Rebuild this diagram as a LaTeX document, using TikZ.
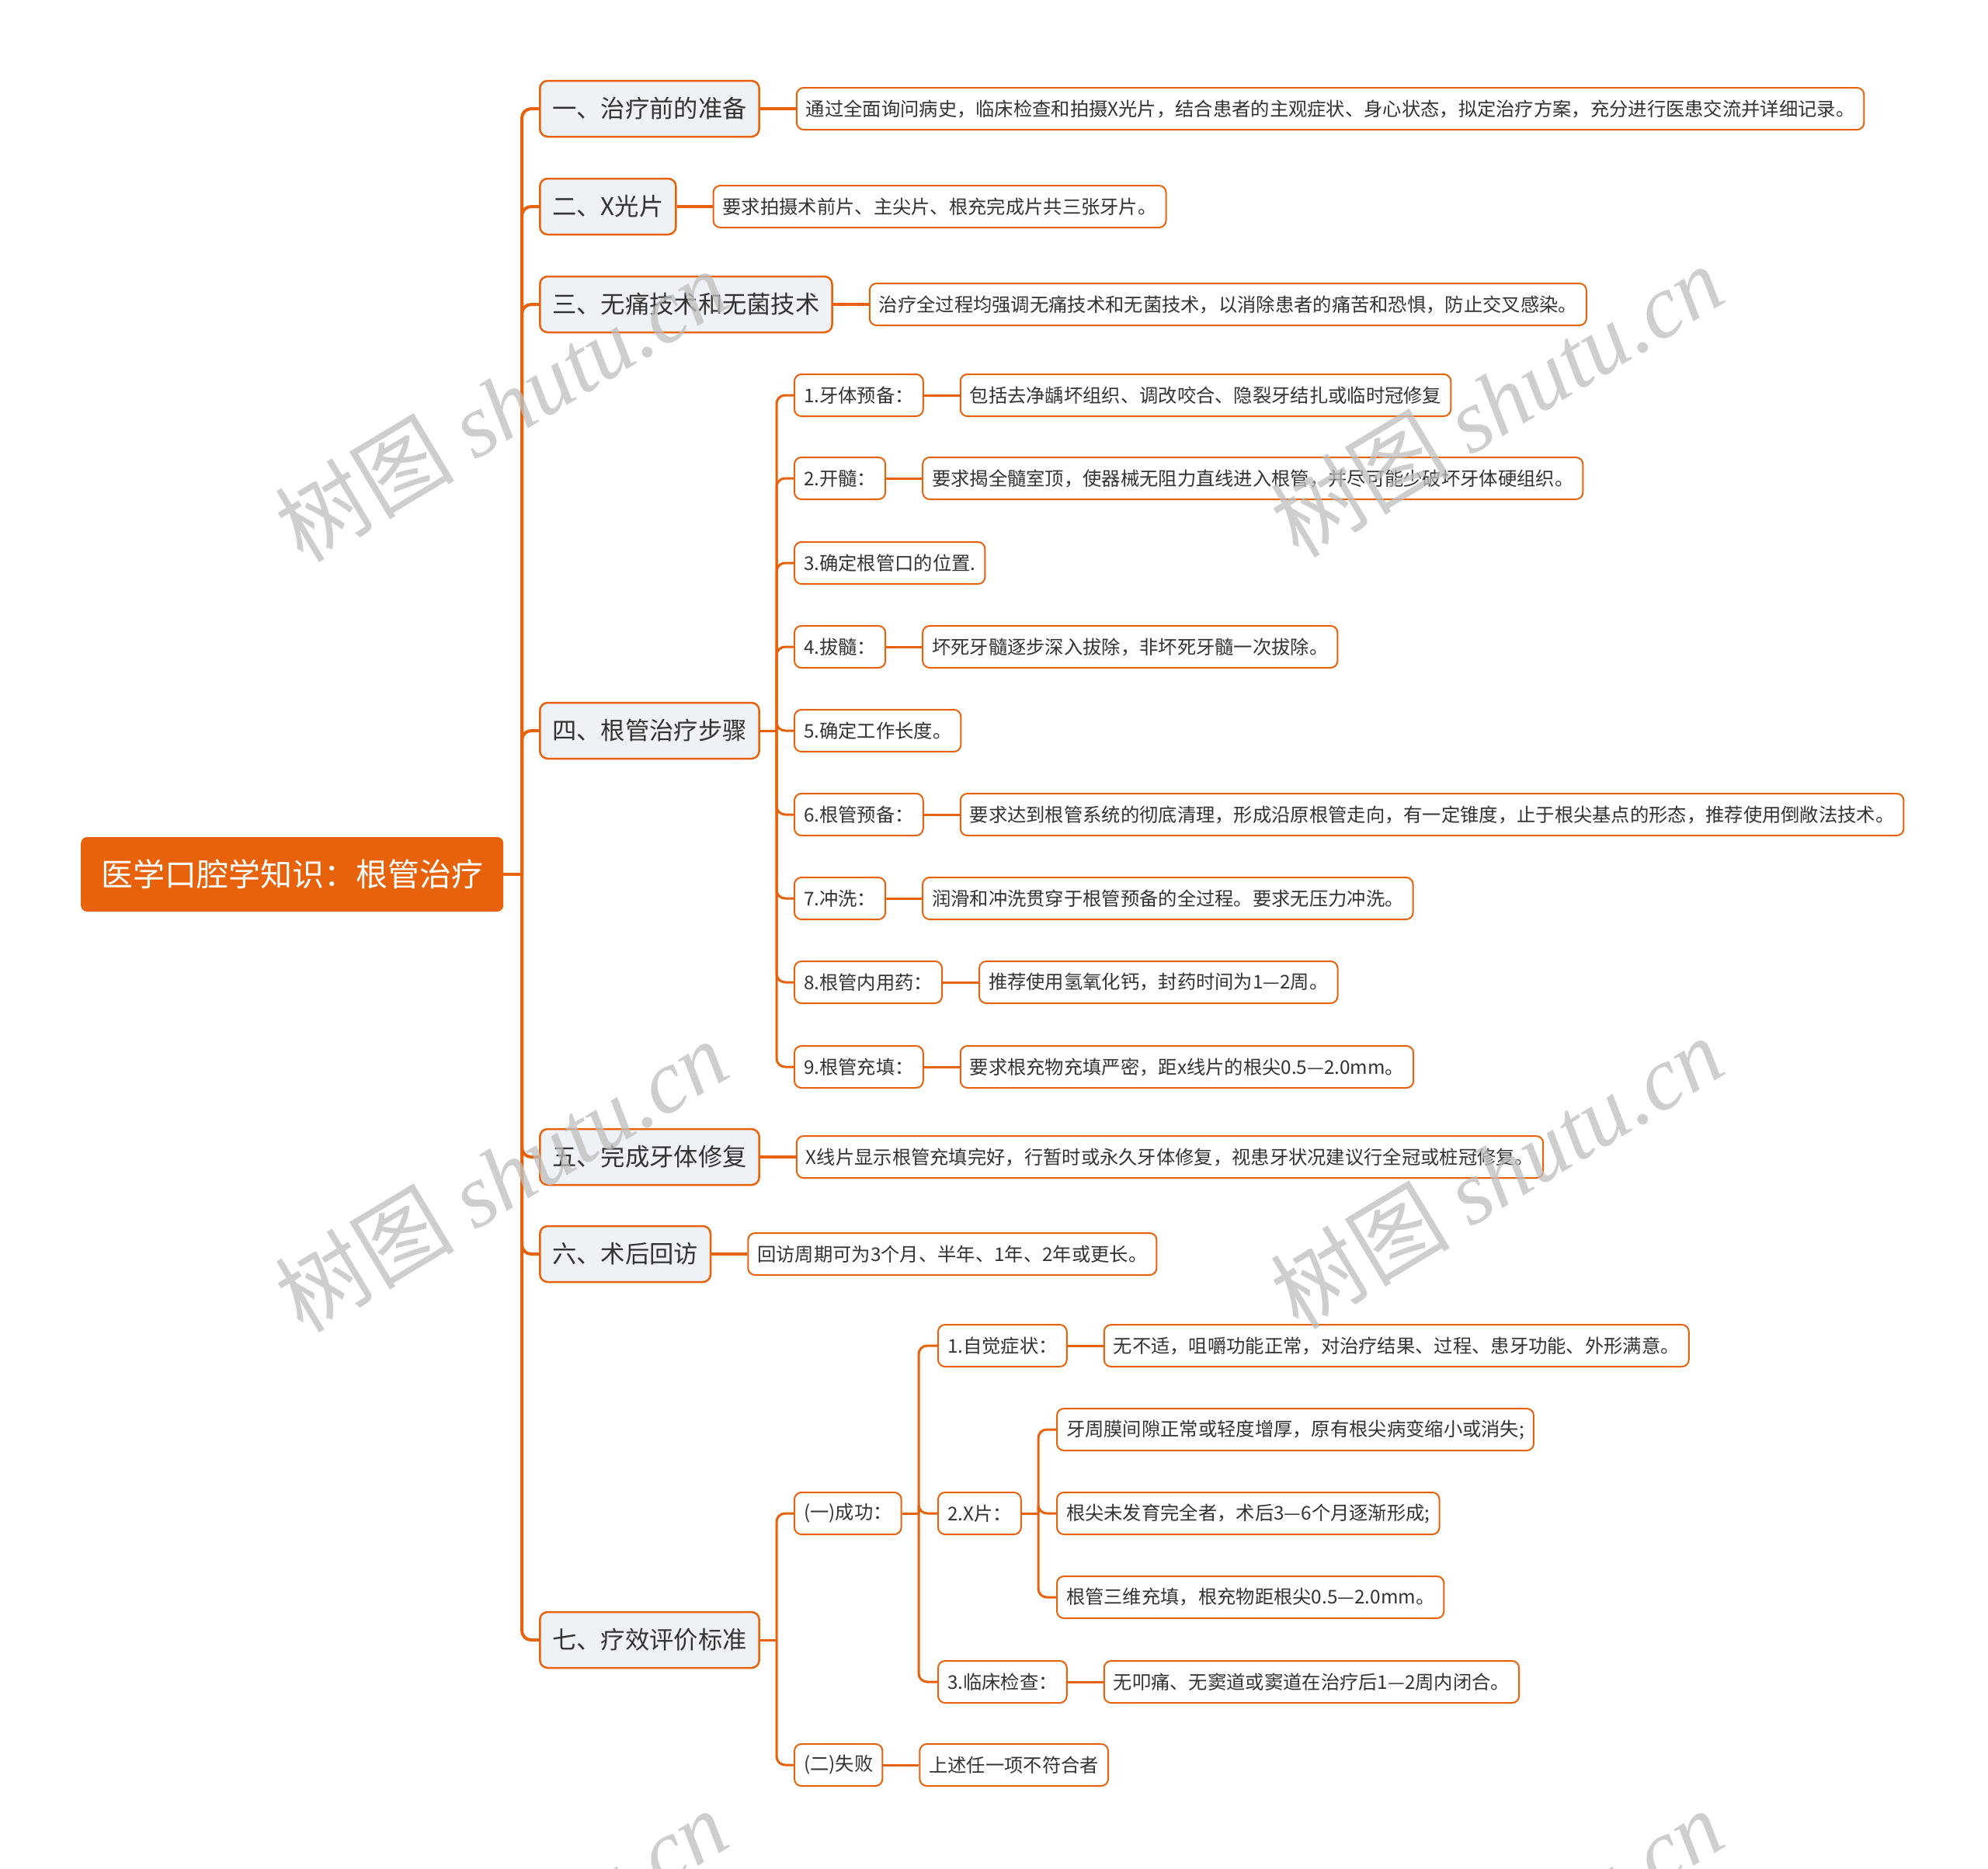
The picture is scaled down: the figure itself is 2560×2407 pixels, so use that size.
\documentclass[tikz,border=0pt]{standalone}
\usepackage{fontspec}
\newfontfamily\cjk{Noto Sans CJK SC}
\newfontfamily\wmserif{Liberation Serif}
\usetikzlibrary{positioning,backgrounds}
\definecolor{mor}{HTML}{E8620C}
\definecolor{lfill}{HTML}{EEF1F5}
\definecolor{tc}{HTML}{333333}
\definecolor{wmc}{HTML}{BEBEBE}
\tikzset{
  rootbox/.style={fill=mor, rounded corners=8pt, text=white, font=\cjk\fontsize{41}{41}\selectfont,
    minimum height=96pt, inner xsep=26pt, anchor=west},
  lonebox/.style={draw=mor, line width=2.5pt, fill=lfill, rounded corners=10pt, text=tc,
    font=\cjk\fontsize{31.3}{31.3}\selectfont, minimum height=72pt, inner xsep=16pt, anchor=west},
  ltwobox/.style={draw=mor, line width=2pt, fill=white, rounded corners=9pt, text=tc,
    font=\cjk\fontsize{24.3}{24.3}\selectfont, minimum height=54pt, inner xsep=12pt, anchor=west},
  descbox/.style={ltwobox, right=46pt of #1},
  conna/.style={draw=mor, line width=4pt, rounded corners=12pt},
  connb/.style={draw=mor, line width=3pt, rounded corners=11pt},
  wm/.style={text=wmc, rotate=31, font=\cjk\fontsize{116}{116}\selectfont, opacity=0.75},
}
\begin{document}
\begin{tikzpicture}[x=1pt,y=-1pt]
\useasboundingbox (0,0) rectangle (2560,2407);

% root
\node[rootbox] (root) at (104,1126) {医学口腔学知识：根管治疗};
\coordinate (t0) at (672,1126);

% level 1
\node[lonebox] (n1) at (694,140) {一、治疗前的准备};
\node[lonebox] (n2) at (694,266) {二、X光片};
\node[lonebox] (n3) at (694,392) {三、无痛技术和无菌技术};
\node[lonebox] (n4) at (694,941) {四、根管治疗步骤};
\node[lonebox] (n5) at (694,1490) {五、完成牙体修复};
\node[lonebox] (n6) at (694,1615) {六、术后回访};
\node[lonebox] (n7) at (694,2112) {七、疗效评价标准};

\node[descbox=n1] (d1) {通过全面询问病史，临床检查和拍摄X光片，结合患者的主观症状、身心状态，拟定治疗方案，充分进行医患交流并详细记录。};
\node[descbox=n2] (d2) {要求拍摄术前片、主尖片、根充完成片共三张牙片。};
\node[descbox=n3] (d3) {治疗全过程均强调无痛技术和无菌技术，以消除患者的痛苦和恐惧，防止交叉感染。};
\node[descbox=n5] (d5) {X线片显示根管充填完好，行暂时或永久牙体修复，视患牙状况建议行全冠或桩冠修复。};
\node[descbox=n6] (d6) {回访周期可为3个月、半年、1年、2年或更长。};

% 四 children
\coordinate (t4) at (1000,941);
\node[ltwobox] (s1) at (1022,509) {1.牙体预备：};
\node[ltwobox] (s2) at (1022,616) {2.开髓：};
\node[ltwobox] (s3) at (1022,725) {3.确定根管口的位置.};
\node[ltwobox] (s4) at (1022,833) {4.拔髓：};
\node[ltwobox] (s5) at (1022,941) {5.确定工作长度。};
\node[ltwobox] (s6) at (1022,1049) {6.根管预备：};
\node[ltwobox] (s7) at (1022,1157) {7.冲洗：};
\node[ltwobox] (s8) at (1022,1265) {8.根管内用药：};
\node[ltwobox] (s9) at (1022,1374) {9.根管充填：};

\node[descbox=s1] (s1d) {包括去净龋坏组织、调改咬合、隐裂牙结扎或临时冠修复};
\node[descbox=s2] (s2d) {要求揭全髓室顶，使器械无阻力直线进入根管，并尽可能少破坏牙体硬组织。};
\node[descbox=s4] (s4d) {坏死牙髓逐步深入拔除，非坏死牙髓一次拔除。};
\node[descbox=s6] (s6d) {要求达到根管系统的彻底清理，形成沿原根管走向，有一定锥度，止于根尖基点的形态，推荐使用倒敞法技术。};
\node[descbox=s7] (s7d) {润滑和冲洗贯穿于根管预备的全过程。要求无压力冲洗。};
\node[descbox=s8] (s8d) {推荐使用氢氧化钙，封药时间为1—2周。};
\node[descbox=s9] (s9d) {要求根充物充填严密，距x线片的根尖0.5—2.0mm。};

% 七 children
\coordinate (t7) at (1000,2112);
\node[ltwobox] (c1) at (1022,1949) {(一)成功：};
\node[ltwobox] (c2) at (1022,2273) {(二)失败};
\node[descbox=c2] (c2d) {上述任一项不符合者};

\coordinate (t71) at (1183,1949);
\node[ltwobox] (e1) at (1207,1733) {1.自觉症状：};
\node[ltwobox] (e2) at (1207,1949) {2.X片：};
\node[ltwobox] (e3) at (1207,2166) {3.临床检查：};
\node[descbox=e1] (e1d) {无不适，咀嚼功能正常，对治疗结果、过程、患牙功能、外形满意。};
\node[descbox=e3] (e3d) {无叩痛、无窦道或窦道在治疗后1—2周内闭合。};

\coordinate (t72) at (1337,1949);
\node[ltwobox] (x1) at (1360,1841) {牙周膜间隙正常或轻度增厚，原有根尖病变缩小或消失;};
\node[ltwobox] (x2) at (1360,1949) {根尖未发育完全者，术后3—6个月逐渐形成;};
\node[ltwobox] (x3) at (1360,2057) {根管三维充填，根充物距根尖0.5—2.0mm。};

% background + connectors
\begin{scope}[on background layer]
  \fill[white] (0,0) rectangle (2560,2407);
  \draw[conna] (root.east) -- (t0);
  \foreach \n in {n1,n2,n3,n4,n5,n6,n7} { \draw[conna] (t0) |- (\n.west); }
  \draw[conna] (n1.east) -- (d1.west);
  \draw[conna] (n2.east) -- (d2.west);
  \draw[conna] (n3.east) -- (d3.west);
  \draw[conna] (n5.east) -- (d5.west);
  \draw[conna] (n6.east) -- (d6.west);

  \draw[connb] (n4.east) -- (t4);
  \foreach \n in {s1,s2,s3,s4,s5,s6,s7,s8,s9} { \draw[connb] (t4) |- (\n.west); }
  \foreach \n in {s1,s2,s4,s6,s7,s8,s9} { \draw[connb] (\n.east) -- (\n d.west); }

  \draw[connb] (n7.east) -- (t7);
  \foreach \n in {c1,c2} { \draw[connb] (t7) |- (\n.west); }
  \draw[connb] (c2.east) -- (c2d.west);
  \draw[connb] (c1.east) -- (t71);
  \foreach \n in {e1,e2,e3} { \draw[connb] (t71) |- (\n.west); }
  \draw[connb] (e1.east) -- (e1d.west);
  \draw[connb] (e3.east) -- (e3d.west);
  \draw[connb] (e2.east) -- (t72);
  \foreach \n in {x1,x2,x3} { \draw[connb] (t72) |- (\n.west); }
\end{scope}

% watermarks
\begin{scope}
  \clip (0,0) rectangle (2560,2407);
  \foreach \wx/\wy in {645/522, 1927/516, 645/1514, 1927/1510, 645/2505, 1927/2505} {
    \node[wm] at (\wx,\wy) {树图 {\wmserif\itshape shutu.cn}};
  }
\end{scope}
\end{tikzpicture}
\end{document}
